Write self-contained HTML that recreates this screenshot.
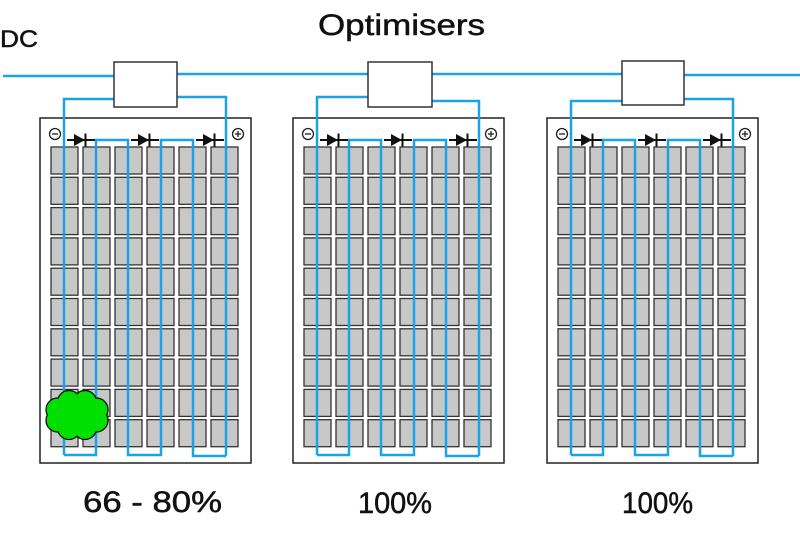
<!DOCTYPE html>
<html>
<head>
<meta charset="utf-8">
<style>
html,body{margin:0;padding:0;background:#fff;}
svg{display:block;}
text{font-family:"Liberation Sans",sans-serif;fill:#111;stroke:#111;stroke-width:0.5;}
</style>
</head>
<body>
<svg width="800" height="534" viewBox="0 0 800 534" xmlns="http://www.w3.org/2000/svg">
<defs>
  <rect id="c" width="27" height="27" fill="#c8c8c8" stroke="#333" stroke-width="1.3"/>
  <g id="row">
    <use href="#c" x="11"/><use href="#c" x="43"/><use href="#c" x="75"/>
    <use href="#c" x="107"/><use href="#c" x="139"/><use href="#c" x="171"/>
  </g>
  <g id="diode">
    <line x1="0" y1="140" x2="28" y2="140" stroke="#111" stroke-width="2"/>
    <polygon points="7,134 7,146 18,140" fill="#111"/>
    <line x1="18.5" y1="133.5" x2="18.5" y2="146.5" stroke="#111" stroke-width="2"/>
  </g>
  <g id="panel">
    <rect x="0" y="118" width="211" height="345" fill="#fff" stroke="#222" stroke-width="1.5"/>
    <use href="#row" y="147"/>
    <use href="#row" y="177.3"/>
    <use href="#row" y="207.6"/>
    <use href="#row" y="237.9"/>
    <use href="#row" y="268.2"/>
    <use href="#row" y="298.5"/>
    <use href="#row" y="328.8"/>
    <use href="#row" y="359.1"/>
    <use href="#row" y="389.4"/>
    <use href="#row" y="419.7"/>
    <path d="M24,455 H56 V140 H88 V455 H121 V140 H153 V456 H186" fill="none" stroke="#1aa3e6" stroke-width="2.5"/>
    <use href="#diode" x="27"/>
    <use href="#diode" x="91"/>
    <use href="#diode" x="156"/>
    <circle cx="15" cy="134" r="5.5" fill="#fff" stroke="#222" stroke-width="1.3"/>
    <line x1="12" y1="134" x2="18" y2="134" stroke="#222" stroke-width="1.3"/>
    <circle cx="198" cy="134" r="5.5" fill="#fff" stroke="#222" stroke-width="1.3"/>
    <line x1="195" y1="134" x2="201" y2="134" stroke="#222" stroke-width="1.3"/>
    <line x1="198" y1="131" x2="198" y2="137" stroke="#222" stroke-width="1.3"/>
  </g>
  <g id="lobes">
    <circle cx="96.4" cy="420.4" r="11"/>
    <circle cx="85" cy="427.9" r="11"/>
    <circle cx="69" cy="427.9" r="11"/>
    <circle cx="57.6" cy="420.4" r="11"/>
    <circle cx="57.6" cy="409.6" r="11"/>
    <circle cx="69" cy="402.1" r="11"/>
    <circle cx="85" cy="402.1" r="11"/>
    <circle cx="96.4" cy="409.6" r="11"/>
  </g>
</defs>

<!-- titles -->
<text x="318" y="35" font-size="30" textLength="167" lengthAdjust="spacingAndGlyphs">Optimisers</text>
<text x="0" y="47" font-size="24" textLength="38" lengthAdjust="spacingAndGlyphs">DC</text>

<!-- DC bus -->
<g fill="none" stroke="#1aa3e6" stroke-width="2.5">
  <path d="M3,76 H114"/>
  <path d="M177,74 H368"/>
  <path d="M432,74 H622"/>
  <path d="M684,75 H800"/>
</g>

<!-- panels -->
<use href="#panel" x="40"/>
<use href="#panel" x="293"/>
<use href="#panel" x="547"/>

<!-- leads -->
<g fill="none" stroke="#1aa3e6" stroke-width="2.5">
  <path d="M114,99 H64 V455"/>
  <path d="M177,97 H226 V456"/>
  <path d="M368,97 H317 V455"/>
  <path d="M432,101 H479 V456"/>
  <path d="M622,101 H571 V455"/>
  <path d="M684,99 H733 V456"/>
</g>

<!-- optimiser boxes -->
<g fill="#fff" stroke="#333" stroke-width="1.5">
  <rect x="114" y="62" width="63" height="45"/>
  <rect x="368" y="62" width="64" height="45"/>
  <rect x="622" y="61" width="62" height="44"/>
</g>

<!-- cloud -->
<use href="#lobes" fill="#00e000" stroke="#000" stroke-width="2.4"/>
<use href="#lobes" fill="#00e000"/>
<ellipse cx="77" cy="415" rx="24" ry="17" fill="#00e000"/>

<!-- labels -->
<text x="83" y="512" font-size="30" textLength="139" lengthAdjust="spacingAndGlyphs">66 - 80%</text>
<text x="358" y="513" font-size="30" textLength="74" lengthAdjust="spacingAndGlyphs">100%</text>
<text x="622" y="513" font-size="30" textLength="71" lengthAdjust="spacingAndGlyphs">100%</text>
</svg>
</body>
</html>
